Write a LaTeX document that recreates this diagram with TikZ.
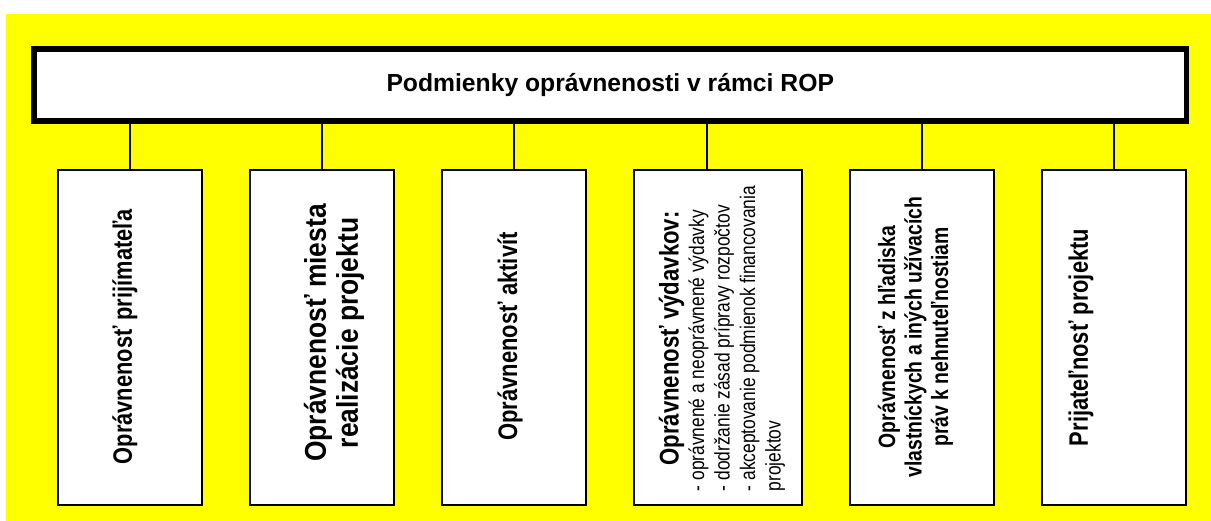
\documentclass[tikz,border=0pt]{standalone}
\usepackage{fontspec}
\setmainfont{Liberation Sans}
\newfontfamily\nar{Liberation Sans}[FakeStretch=0.82]
\newfontfamily\nartwo{Liberation Sans}[FakeStretch=0.88]
\definecolor{bgyellow}{RGB}{255,255,0}
\begin{document}
\begin{tikzpicture}[x=1pt,y=-1pt,
  topbox/.style={draw=black, fill=white, line width=5.5pt, minimum width=1152.5pt, minimum height=72pt, inner sep=0pt,
    font={\bfseries\fontsize{24.7}{28}\selectfont}},
  subbox/.style={draw=black, fill=white, line width=1.8pt, minimum height=335pt, inner sep=0pt},
  vtext/.style={rotate=90, inner sep=0pt, align=center},
  link/.style={draw=black, line width=1.6pt}]
\useasboundingbox (0,0) rectangle (1211,521);
\fill[bgyellow] (6,14) rectangle (1211,521);
\node[topbox] (top) at (610.25,85) {Podmienky oprávnenosti v rámci ROP};
\node[subbox, minimum width=144.3pt] (b1) at (130.15,337.5) {};
\node[subbox, minimum width=144.3pt] (b2) at (322.15,337.5) {};
\node[subbox, minimum width=144.3pt] (b3) at (514.15,337.5) {};
\node[subbox, minimum width=168.3pt] (b4) at (718.15,337.5) {};
\node[subbox, minimum width=144.3pt] (b5) at (922.15,337.5) {};
\node[subbox, minimum width=144.3pt] (b6) at (1114.15,337.5) {};
\coordinate (k4) at ([xshift=-11pt]b4.north);
\draw[link] (b1.north) -- (b1.north |- top.south);
\draw[link] (b2.north) -- (b2.north |- top.south);
\draw[link] (b3.north) -- (b3.north |- top.south);
\draw[link] (k4) -- (k4 |- top.south);
\draw[link] (b5.north) -- (b5.north |- top.south);
\draw[link] (b6.north) -- (b6.north |- top.south);
\node[vtext, font={\nar\bfseries\fontsize{26.6}{30}\selectfont}] (t1) at (125,336.5) {Oprávnenosť prijímateľa};
\node[vtext, font={\nartwo\bfseries\fontsize{30}{32}\selectfont}] (t2) at (334,333) {Oprávnenosť miesta\\realizácie projektu};
\node[vtext, font={\nar\bfseries\fontsize{26.8}{30}\selectfont}] (t3) at (510,336.5) {Oprávnenosť aktivít};
\node[vtext, font={\nar\fontsize{21.2}{25.5}\selectfont}] (t4) at (723.5,338.5) {\begin{tabular}{@{}l@{}}\multicolumn{1}{@{}c@{}}{\bfseries\fontsize{27}{30}\selectfont Oprávnenosť výdavkov:}\\
- oprávnené a neoprávnené výdavky\\
- dodržanie zásad prípravy rozpočtov\\
- akceptovanie podmienok financovania\\
projektov\end{tabular}};
\node[vtext, font={\nar\bfseries\fontsize{23.6}{26.5}\selectfont}] (t5) at (915.5,337) {Oprávnenosť z hľadiska\\vlastníckych a iných užívacích\\práv k nehnuteľnostiam};
\node[vtext, font={\nar\bfseries\fontsize{26.7}{30}\selectfont}] (t6) at (1081,337.5) {Prijateľnosť projektu};
\end{tikzpicture}
\end{document}
